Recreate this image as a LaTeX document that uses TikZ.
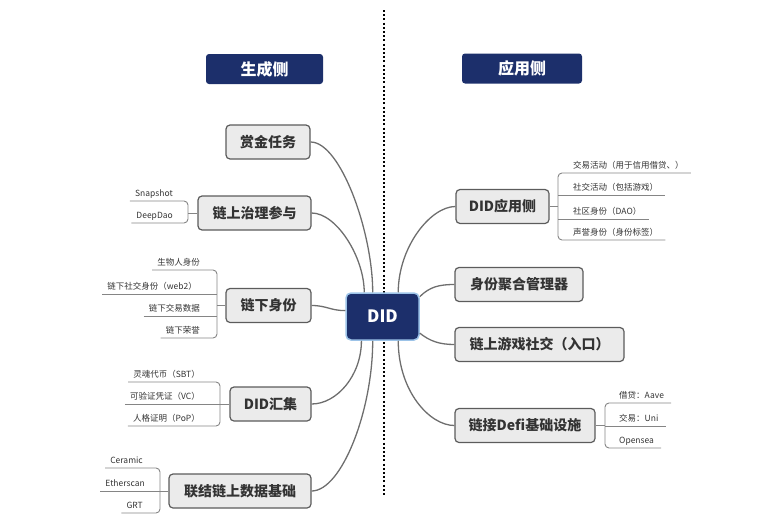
\documentclass[tikz,border=0pt]{standalone}
\usepackage{fontspec}
\setmainfont{Noto Sans CJK SC}
\definecolor{navy}{HTML}{1C2F6B}
\definecolor{topicfill}{HTML}{EBEBEB}
\definecolor{topicline}{HTML}{5C5C5C}
\definecolor{linkgray}{HTML}{6E6E6E}
\definecolor{twiggray}{HTML}{858585}
\definecolor{glow}{HTML}{9CC3E8}
\begin{document}
\begin{tikzpicture}[x=1pt,y=-1pt,
    side/.style={fill=navy, rounded corners=3pt, minimum height=30pt, inner sep=0pt,
      text=white, font=\fontsize{16}{18}\selectfont\bfseries},
    hub/.style={fill=navy, draw=glow, line width=1.5pt, rounded corners=5pt,
      minimum width=73pt, minimum height=47pt, inner sep=0pt,
      text=white, font=\fontsize{17}{19}\selectfont\bfseries},
    topic/.style={fill=topicfill, draw=topicline, line width=1.2pt, rounded corners=4pt,
      minimum height=34pt, inner sep=0pt, text=black!80,
      font=\fontsize{14}{16}\selectfont\bfseries},
    leaf/.style={inner xsep=5pt, inner ysep=3pt, text height=7pt, text depth=1.5pt,
      text=black!80, font=\fontsize{8.5}{10}\selectfont},
    link/.style={draw=linkgray, line width=1.3pt},
    twig/.style={draw=twiggray, line width=0.9pt}]
  \useasboundingbox (0,0) rectangle (771,525);
  % divider
  \draw [black, line width=1.6pt, dash pattern=on 2pt off 2.2pt] (384,10) -- (384,495);
  % headers
  \node[side, minimum width=117pt] (gen) at (264.5,69) {生成侧};
  \node[side, minimum width=120pt] (use) at (522,68.5) {应用侧};
  % centre
  \node[hub] (did) at (382.5,316.5) {DID};
  % left topics
  \node[topic, minimum width=84pt] (bounty) at (268,142) {赏金任务};
  \node[topic, minimum width=113pt] (gov) at (254.5,213) {链上治理参与};
  \node[topic, minimum width=85pt] (offid) at (268.5,305.5) {链下身份};
  \node[topic, minimum width=81pt] (agg) at (270.5,404) {DID汇集};
  \node[topic, minimum width=142pt] (data) at (240,491) {联结链上数据基础};
  % right topics
  \node[topic, minimum width=93pt] (app) at (502.5,206.5) {DID应用侧};
  \node[topic, minimum width=128pt] (mgr) at (519,284.5) {身份聚合管理器};
  \node[topic, minimum width=169pt] (game) at (539.5,344.5) {链上游戏社交（入口）};
  \node[topic, minimum width=140pt] (defi) at (525,425.5) {链接Defi基础设施};
  % links from the centre
  \draw[link] (did.112) .. controls +(0,-60) and +(30,0) .. (bounty.east);
  \draw[link] (did.127) .. controls +(0,-35) and +(25,0) .. (gov.east);
  \draw[link] (did.171) .. controls +(-15,0) and +(15,0) .. (offid.east);
  \draw[link] (did.229) .. controls +(0,35) and +(25,0) .. (agg.east);
  \draw[link] (did.248) .. controls +(0,70) and +(30,0) .. (data.east);
  \draw[link] (did.57) .. controls +(0,-45) and +(-25,0) .. (app.west);
  \draw[link] (did.28) .. controls +(10,-10) and +(-15,0) .. (mgr.west);
  \draw[link] (did.336) .. controls +(10,8) and +(-15,0) .. (game.west);
  \draw[link] (did.303) .. controls +(0,50) and +(-25,0) .. (defi.west);
  % leaves of gov
  \coordinate (govx) at (188,0);
  \node[leaf, anchor=south east] (g1) at (178,201) {Snapshot};
  \node[leaf, anchor=south east] (g2) at (178,223) {DeepDao};
  \draw[twig, rounded corners=4pt] (g1.south west) -- (g1.south -| govx) -- (g2.south -| govx) -- (g2.south west);
  \draw[twig] (gov.west) -- (gov.west -| govx);
  % leaves of offid
  \coordinate (offx) at (217,0);
  \node[leaf, anchor=south east] (o1) at (205,270) {生物人身份};
  \node[leaf, anchor=south east] (o2) at (202,294) {链下社交身份（web2）};
  \node[leaf, anchor=south east] (o3) at (205,316) {链下交易数据};
  \node[leaf, anchor=south east] (o4) at (205,338) {链下荣誉};
  \draw[twig, rounded corners=4pt] (o1.south west) -- (o1.south -| offx) -- (o4.south -| offx) -- (o4.south west);
  \draw[twig] (o2.south west) -- (o2.south -| offx);
  \draw[twig] (o3.south west) -- (o3.south -| offx);
  \draw[twig] (offid.west) -- (offid.west -| offx);
  % leaves of agg
  \coordinate (aggx) at (220,0);
  \node[leaf, anchor=south east] (a1) at (205,382) {灵魂代币（SBT）};
  \node[leaf, anchor=south east] (a2) at (205,404) {可验证凭证（VC）};
  \node[leaf, anchor=south east] (a3) at (205,426) {人格证明（PoP）};
  \draw[twig, rounded corners=4pt] (a1.south west) -- (a1.south -| aggx) -- (a3.south -| aggx) -- (a3.south west);
  \draw[twig] (a2.south west) -- (a2.south -| aggx);
  \draw[twig] (agg.west) -- (agg.west -| aggx);
  % leaves of data
  \coordinate (datx) at (160,0);
  \node[leaf, anchor=south east] (d1) at (148,468) {Ceramic};
  \node[leaf, anchor=south east] (d2) at (150,491) {Etherscan};
  \node[leaf, anchor=south east] (d3) at (148,513) {GRT};
  \draw[twig, rounded corners=4pt] (d1.south west) -- (d1.south -| datx) -- (d3.south -| datx) -- (d3.south west);
  \draw[twig] (d2.south west) -- (d2.south -| datx);
  \draw[twig] (data.west) -- (data.west -| datx);
  % leaves of app
  \coordinate (appx) at (558,0);
  \node[leaf, anchor=south west, inner xsep=7pt] (p1) at (566,173) {交易活动（用于信用借贷、）};
  \node[leaf, anchor=south west, inner xsep=7pt] (p2) at (566,195) {社交活动（包括游戏）};
  \node[leaf, anchor=south west, inner xsep=7pt] (p3) at (566,219) {社区身份（DAO）};
  \node[leaf, anchor=south west, inner xsep=7pt] (p4) at (566,240) {声誉身份（身份标签）};
  \draw[twig, rounded corners=4pt] (p1.south east) -- (p1.south -| appx) -- (p4.south -| appx) -- (p4.south east);
  \draw[twig] (p2.south -| appx) -- (p2.south east);
  \draw[twig] (p3.south -| appx) -- (p3.south east);
  \draw[twig] (app.east) -- (app.east -| appx);
  % leaves of defi
  \coordinate (defx) at (605,0);
  \node[leaf, anchor=south west, inner xsep=7pt] (f1) at (612,403) {借贷：Aave};
  \node[leaf, anchor=south west, inner xsep=7pt] (f2) at (612,426) {交易：Uni};
  \node[leaf, anchor=south west, inner xsep=7pt] (f3) at (612,448) {Opensea};
  \draw[twig, rounded corners=4pt] (f1.south east) -- (f1.south -| defx) -- (f3.south -| defx) -- (f3.south east);
  \draw[twig] (f2.south -| defx) -- (f2.south east);
  \draw[twig] (defi.east) -- (defi.east -| defx);
\end{tikzpicture}
\end{document}
